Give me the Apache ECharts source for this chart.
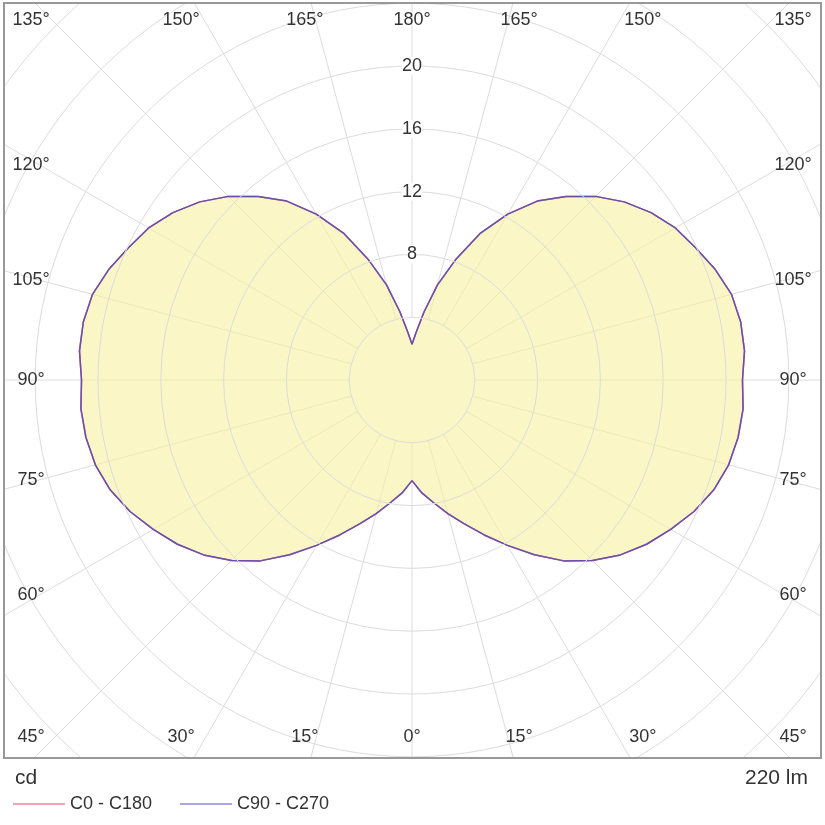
<!DOCTYPE html>
<html>
<head>
<meta charset="utf-8">
<script src="https://cdn.jsdelivr.net/npm/echarts@6/dist/echarts.min.js"></script>
<style>
html,body{margin:0;padding:0;background:#fff;}
#chart{width:825px;height:825px;}
</style>
</head>
<body>
<div id="chart"></div>
<script>
// ---- data ----
const gammaAngles = [0,5,10,15,20,25,30,35,40,45,50,55,60,65,70,75,80,85,90,95,100,105,110,115,120,125,130,135,140,145,150,155,160,165,170,175,180];
const c0c180 = [6.41,7.22,7.94,8.81,9.75,10.89,12.16,13.59,15.04,16.25,17.33,18.24,19.03,19.82,20.46,20.88,21.09,21.17,21.05,21.26,21.26,21.07,20.56,19.93,19.37,18.59,17.65,16.54,15.26,13.91,12.2,10.33,8.19,6.27,4.4,3.05,2.27];
const c90c270 = [6.41,7.22,7.94,8.81,9.75,10.89,12.16,13.59,15.04,16.25,17.33,18.24,19.03,19.82,20.46,20.88,21.09,21.17,21.05,21.26,21.26,21.07,20.56,19.93,19.37,18.59,17.65,16.54,15.26,13.91,12.2,10.33,8.19,6.27,4.4,3.05,2.27];
const seriesNames = ['C0 - C180', 'C90 - C270'];
const angleTicks = [0,15,30,45,60,75,90,105,120,135,150,165,180];
const radiusLabels = [8,12,16,20];
const unitLabel = 'cd';
const fluxLabel = '220 lm';

// ---- layout ----
const cx = 412, cy = 380;
const pxPerUnit = 15.7;
const rMin = 4, rMax = 36;
const innerPx = rMin * pxPerUnit;
const outerPx = rMax * pxPerUnit;

function toPolarData(vals) {
  const out = [];
  for (let i = gammaAngles.length - 1; i >= 0; i--) out.push([vals[i], -gammaAngles[i]]);
  for (let i = 1; i < gammaAngles.length; i++) out.push([vals[i], gammaAngles[i]]);
  return out;
}

const chart = echarts.init(document.getElementById('chart'), null, {renderer: 'canvas'});

const FONT = 'Liberation Sans, Arial, sans-serif';
const gridColor = '#dcdcdc';

const labelEls = [];
angleTicks.forEach(a => {
  const sides = (a === 0 || a === 180) ? [1] : [1, -1];
  sides.forEach(s => {
    const rad = a * Math.PI / 180;
    let x, y;
    if (a <= 45) {
      y = 737; x = cx + s * Math.min(400 * Math.tan(rad), 381);
    } else if (a >= 135) {
      y = 20; x = cx + s * Math.min(400 * Math.tan(Math.PI - rad), 381);
    } else {
      x = cx + s * 381; y = cy + 372 / Math.tan(rad);
    }
    labelEls.push({
      type: 'text', z: 55, x: x, y: y,
      style: {text: a + '°', fill: '#333', font: '18px ' + FONT, textAlign: 'center', textVerticalAlign: 'middle'}
    });
  });
});

const option = {
  animation: false,
  backgroundColor: '#fff',
  polar: [
    {center: [cx, cy], radius: [innerPx, outerPx]},
    {center: [cx, cy], radius: [0, outerPx]}
  ],
  angleAxis: [
    {
      polarIndex: 0, type: 'value', min: -180, max: 180, interval: 15,
      startAngle: 90, clockwise: false,
      axisLine: {show: false}, axisTick: {show: false}, axisLabel: {show: false},
      splitLine: {show: true, lineStyle: {color: gridColor, width: 1}}
    },
    {
      polarIndex: 1, type: 'value', min: -180, max: 180, interval: 15,
      startAngle: 90, clockwise: false, show: false,
      axisLine: {show: false}, axisTick: {show: false}, axisLabel: {show: false}, splitLine: {show: false}
    }
  ],
  radiusAxis: [
    {
      polarIndex: 0, type: 'value', min: rMin, max: rMax, interval: 4,
      axisLine: {show: false}, axisTick: {show: false},
      axisLabel: {
        show: true, margin: 0, align: 'center', verticalAlign: 'middle', rotate: 0,
        color: '#333', fontSize: 18, fontFamily: FONT, backgroundColor: '#fff',
        formatter: v => radiusLabels.indexOf(v) >= 0 ? String(v) : ''
      },
      splitLine: {show: true, lineStyle: {color: gridColor, width: 1}},
      z: 3
    },
    {
      polarIndex: 1, type: 'value', min: 0, max: rMax, show: false,
      axisLine: {show: false}, axisTick: {show: false}, axisLabel: {show: false}, splitLine: {show: false}
    }
  ],
  legend: {
    left: 8, top: 790, z: 60,
    icon: 'rect',
    itemWidth: 52, itemHeight: 2, itemGap: 28,
    textStyle: {fontSize: 18, color: '#333', fontFamily: FONT},
    data: [
      {name: seriesNames[0], itemStyle: {color: '#f2a3b4'}},
      {name: seriesNames[1], itemStyle: {color: '#a8a6e6'}}
    ]
  },
  title: [
    {text: unitLabel, left: 10, top: 763, z: 60, textStyle: {fontSize: 21, fontWeight: 'normal', color: '#333', fontFamily: FONT}},
    {text: fluxLabel, right: 12, top: 763, z: 60, textStyle: {fontSize: 21, fontWeight: 'normal', color: '#333', fontFamily: FONT}}
  ],
  series: [
    {
      name: seriesNames[0], type: 'line', coordinateSystem: 'polar', polarIndex: 1,
      data: toPolarData(c0c180), symbol: 'none', clip: false, smooth: false,
      lineStyle: {color: '#e06a88', width: 1.5},
      itemStyle: {color: '#f2a3b4'},
      areaStyle: {color: '#f6f0a0', opacity: 0.6},
      z: 2
    },
    {
      name: seriesNames[1], type: 'line', coordinateSystem: 'polar', polarIndex: 1,
      data: toPolarData(c90c270), symbol: 'none', clip: false, smooth: false,
      lineStyle: {color: '#6650b0', width: 1.5},
      itemStyle: {color: '#a8a6e6'},
      z: 2
    }
  ],
  graphic: [
    {type: 'rect', z: 50, shape: {x: 0, y: 0, width: 825, height: 3}, style: {fill: '#fff'}},
    {type: 'rect', z: 50, shape: {x: 0, y: 0, width: 4, height: 825}, style: {fill: '#fff'}},
    {type: 'rect', z: 50, shape: {x: 822, y: 0, width: 3, height: 825}, style: {fill: '#fff'}},
    {type: 'rect', z: 50, shape: {x: 0, y: 759, width: 825, height: 66}, style: {fill: '#fff'}},
    {type: 'rect', z: 52, shape: {x: 4, y: 3, width: 817, height: 755}, style: {fill: 'none', stroke: '#999', lineWidth: 2}}
  ].concat(labelEls)
};

chart.setOption(option);
</script>
</body>
</html>
